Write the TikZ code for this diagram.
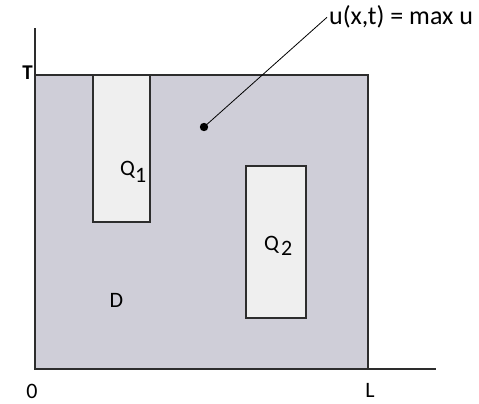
\documentclass[tikz,border=0pt]{standalone}
\usepackage{fontspec}
\setmainfont{Carlito}
\definecolor{dom}{RGB}{207,206,216}
\definecolor{qfill}{RGB}{239,239,239}
\definecolor{edge}{RGB}{45,45,45}
\begin{document}
\begin{tikzpicture}[x=1pt,y=-1pt,
  box/.style={draw=edge,line width=1.4pt},
  axis/.style={draw=edge,line width=1.2pt},
  lbl/.style={inner sep=0pt,anchor=base,font=\fontsize{22}{24}\selectfont}]
\useasboundingbox (0,0) rectangle (479,404);
% domain
\path[box,fill=dom] (35,75) rectangle (368,369);
% axes
\coordinate (o) at (35,369);
\coordinate (ytop) at (35,28);
\coordinate (xend) at (436,369);
\draw[axis] (o) -- (ytop);
\draw[axis] (o) -- (xend);
% Q1, Q2
\path[box,fill=qfill] (93,75) rectangle (150,222);
\path[box,fill=qfill] (246,166) rectangle (306,318);
% labels
\node[lbl,font=\fontsize{21}{23}\selectfont\bfseries] (T) at (27.5,80) {T};
\node[lbl] (zero) at (32,398) {0};
\node[lbl] (L) at (370,397) {L};
\node[lbl] (D) at (116.5,307) {D};
\node[lbl,anchor=base west] (Q1) at (120,175) {Q\kern0pt\raisebox{-7pt}{1}};
\node[lbl,anchor=base west] (Q2) at (264,250) {Q\kern2pt\raisebox{-5pt}{2}};
% max point
\node[circle,fill=black,inner sep=0pt,minimum size=8.4pt] (dot) at (204,127) {};
\node[lbl,anchor=base west,font=\fontsize{26}{28}\selectfont] (maxu) at (329,25) {u(x,t) = max u};
\draw[black,line width=0.8pt] (dot.center) -- ([xshift=-2pt]maxu.west);
\end{tikzpicture}
\end{document}
